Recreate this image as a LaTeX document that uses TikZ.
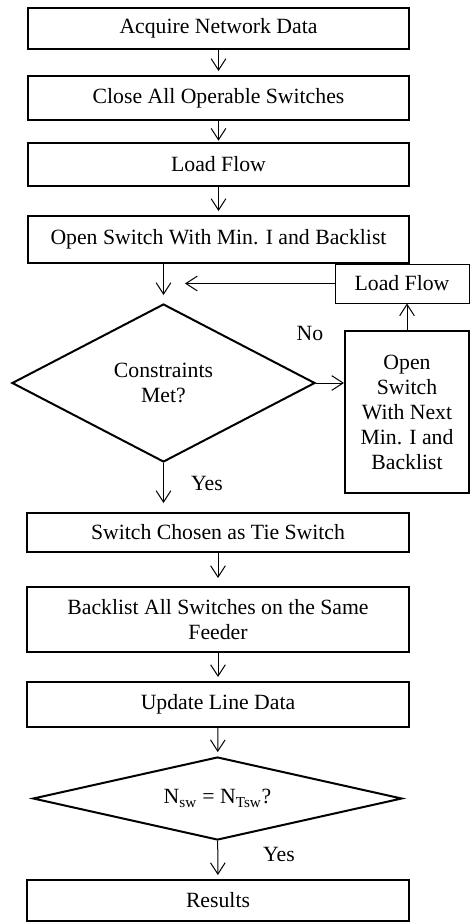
\documentclass[tikz,border=0pt]{standalone}
\usepackage{fontspec}
\setmainfont{Liberation Serif}
\usetikzlibrary{calc}
\usetikzlibrary{arrows.meta}
\usetikzlibrary{shapes.geometric}

\tikzset{
  stepbox/.style={draw, line width=1.5pt, inner sep=0pt, align=center, minimum width=285.75pt},
  thinbox/.style={draw, line width=0.75pt, inner sep=0pt, align=center},
  decide/.style={draw, diamond, line width=1.5pt, inner sep=0pt, align=center},
  arr/.style={line width=0.75pt, -{Straight Barb[length=8.5pt,width=11pt,line width=0.75pt]}, shorten >=3pt},
  lbl/.style={inner sep=0pt}
}

\begin{document}
\begin{tikzpicture}[x=0.75pt,y=0.75pt,yscale=-1,xscale=1,font=\fontsize{16.3}{18.75}\selectfont]
\useasboundingbox (0,0) rectangle (470,922);

% Process Nodes
\node [stepbox, minimum height=30.75pt] (acq) at (218.5,28.5) {Acquire Network Data};
\node [stepbox, minimum height=33pt] (close) at (218.5,98) {Close All Operable Switches};
\node [stepbox, minimum height=32.25pt] (lflow) at (218.5,164.5) {Load Flow};
\node [stepbox, minimum height=35.25pt] (opmin) at (218.5,239.5) {Open Switch With Min. I and Backlist};
% Decision
\node [decide, shape aspect=1.9, minimum width=227.25pt, minimum height=118.5pt] (cons) at (163.5,383) {Constraints\\Met?};
% Loop Nodes
\node [thinbox, minimum width=100.5pt, minimum height=29.25pt] (lfloop) at (402,283.5) {Load Flow};
\node [stepbox, minimum width=93pt, minimum height=121.5pt] (opnext) at (407,412) {Open\\Switch\\With Next\\Min. I and\\Backlist};
% Lower Nodes
\node [stepbox, minimum width=286.5pt, minimum height=29.25pt] (tie) at (218,532.5) {Switch Chosen as Tie Switch};
\node [stepbox, minimum width=286.5pt, minimum height=48.75pt] (back) at (218,619.5) {Backlist All Switches on the Same\\Feeder};
\node [stepbox, minimum width=286.5pt, minimum height=33.75pt] (upd) at (218,704.5) {Update Line Data};
\node [decide, shape aspect=4.4, minimum width=276.75pt, minimum height=62.25pt] (nsw) at (217.5,798.5) {N\textsubscript{sw} = N\textsubscript{Tsw}?};
\node [stepbox, minimum width=286.5pt, minimum height=30.75pt] (res) at (218,900.5) {Results};

% Free Ends
\coordinate (lfend) at (185,283.5);
\coordinate (yesend) at (163.5,503);

% Straight Lines
\draw [arr] (acq) -- (close);
\draw [arr, shorten >=1pt] (close) -- (lflow);
\draw [arr] (lflow) -- (opmin);
\draw [arr, shorten >=6pt] (opmin.south -| cons.north) -- (cons.north);
\draw [arr, shorten >=0pt] (lfloop.west) -- (lfend);
\draw [arr, shorten >=0pt] (opnext.north) -- (opnext.north |- lfloop.south);
\draw [arr, shorten >=0pt] (cons.east) -- (cons.east -| opnext.west);
\draw [arr, shorten >=0pt] (cons.south) -- (yesend);
\draw [arr, shorten >=6pt] (tie) -- (back);
\draw [arr] (back) -- (upd);
\draw [arr] (upd) -- (nsw);
\draw [arr] (nsw) -- (res);

% Text Node
\node [lbl] (no) at (310,333) {No};
% Text Node
\node [lbl] (yes1) at (207,483) {Yes};
% Text Node
\node [lbl] (yes2) at (279,854) {Yes};

\end{tikzpicture}
\end{document}
